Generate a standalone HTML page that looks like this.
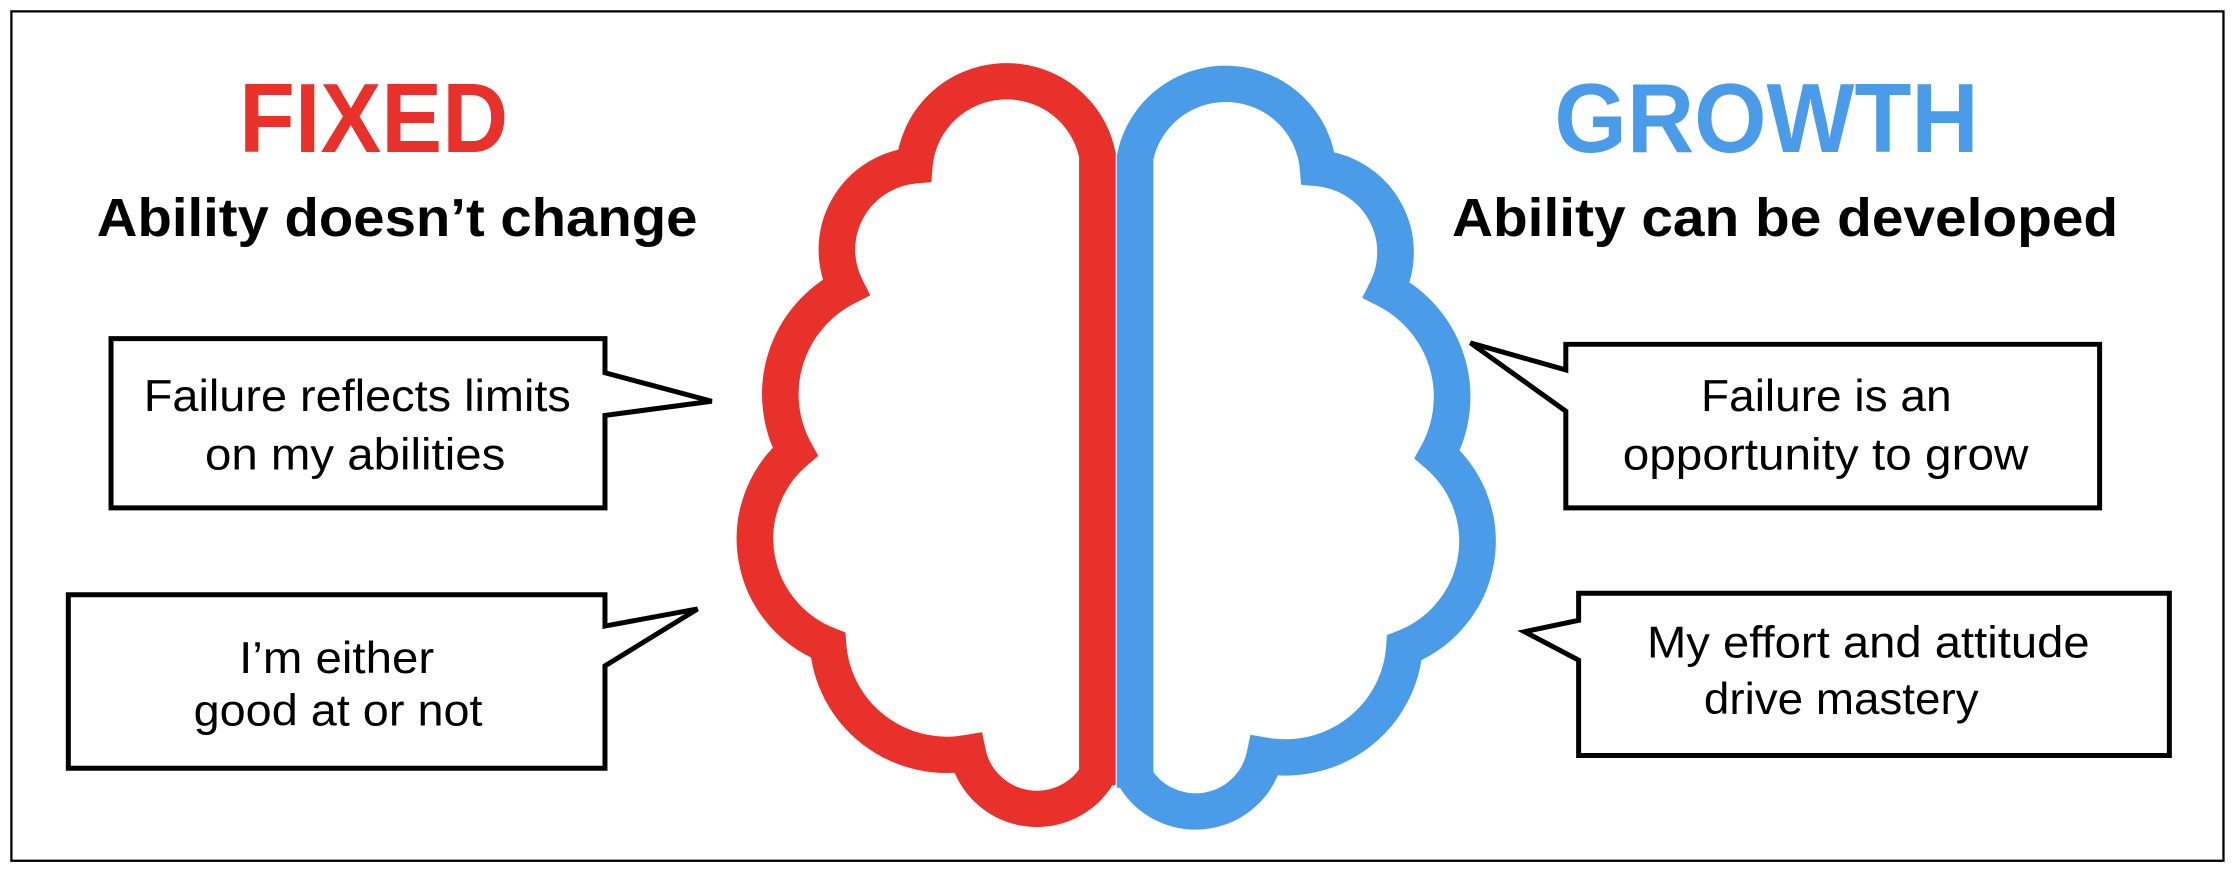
<!DOCTYPE html>
<html><head><meta charset="utf-8"><style>
html,body{margin:0;padding:0;background:#fff;}
svg{display:block;}
text{font-family:"Liberation Sans",Arial,sans-serif;}
</style></head><body>
<svg width="2232" height="875" viewBox="0 0 1568 615" preserveAspectRatio="none" xmlns="http://www.w3.org/2000/svg">
<rect x="0" y="0" width="1568" height="615" fill="#fff"/>
<rect x="8" y="8" width="1554" height="597" fill="none" stroke="#000" stroke-width="1.6"/>

<text x="168" y="107" font-size="69" font-weight="bold" fill="#E8312A" textLength="189" lengthAdjust="spacingAndGlyphs">FIXED</text>
<text x="68" y="166" font-size="38" font-weight="bold" fill="#000" textLength="422" lengthAdjust="spacingAndGlyphs">Ability doesn’t change</text>
<text x="1092" y="107" font-size="69" font-weight="bold" fill="#4A9BE8" textLength="298" lengthAdjust="spacingAndGlyphs">GROWTH</text>
<text x="1020" y="166" font-size="38" font-weight="bold" fill="#000" textLength="468" lengthAdjust="spacingAndGlyphs">Ability can be developed</text>

<g transform="translate(491.7,27) scale(0.3674,0.3645)">
<path d="M760 1440 L760 225 A177 177 0 0 0 410 245 A163 163 0 0 0 279 480 A232 232 0 0 0 182 797 A221 221 0 0 0 245 1170 A228 228 0 0 0 512 1378 A135 135 0 0 0 760 1420 Z" fill="none" stroke="#E8312A" stroke-width="70" stroke-linejoin="miter"/>
<g transform="translate(1592,5) scale(-1,1)">
<path d="M760 1440 L760 225 A177 177 0 0 0 410 245 A163 163 0 0 0 279 480 A232 232 0 0 0 182 797 A221 221 0 0 0 245 1170 A228 228 0 0 0 512 1378 A135 135 0 0 0 760 1420 Z" fill="none" stroke="#4A9BE8" stroke-width="70" stroke-linejoin="miter"/>
</g>
</g>

<g fill="#fff" stroke="#000" stroke-width="3.5" stroke-linejoin="miter">
<path d="M78 238 H425 V262 L500 282 L425 292 V357 H78 Z"/>
<path d="M48 418 H425 V440 L490 428 L425 468 V540 H48 Z"/>
<path d="M1100 242 H1475 V357 H1100 V289 L1033 241 L1100 260 Z"/>
<path d="M1109 417 H1524 V531 H1109 V464 L1071 444 L1109 436 Z"/>
</g>

<g font-size="31" fill="#000">
<text x="101" y="289" textLength="300" lengthAdjust="spacingAndGlyphs">Failure reflects limits</text>
<text x="144" y="330" textLength="211" lengthAdjust="spacingAndGlyphs">on my abilities</text>
<text x="168" y="473" textLength="137" lengthAdjust="spacingAndGlyphs">I’m either</text>
<text x="136" y="510" textLength="203" lengthAdjust="spacingAndGlyphs">good at or not</text>
<text x="1195" y="289" textLength="176" lengthAdjust="spacingAndGlyphs">Failure is an</text>
<text x="1140" y="330" textLength="285" lengthAdjust="spacingAndGlyphs">opportunity to grow</text>
<text x="1157" y="462" textLength="311" lengthAdjust="spacingAndGlyphs">My effort and attitude</text>
<text x="1197" y="502" textLength="193" lengthAdjust="spacingAndGlyphs">drive mastery</text>
</g>
</svg>
</body></html>
